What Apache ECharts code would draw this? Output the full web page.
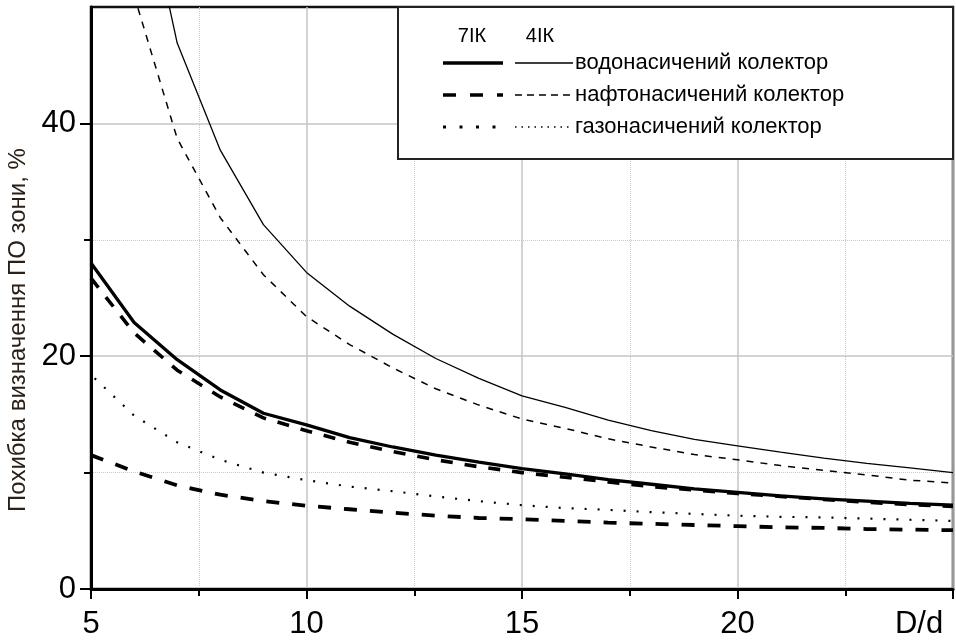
<!DOCTYPE html>
<html>
<head>
<meta charset="utf-8">
<script src="https://cdn.jsdelivr.net/npm/echarts@6/dist/echarts.min.js"></script>
<style>
    html, body { margin: 0; padding: 0; background: #fff; }
    #container { width: 956px; height: 644px; }
</style>
</head>
<body>
<div id="container"></div>
<script>
    // D/d values (x axis)
    var ratios = [5, 6, 7, 8, 9, 10, 11, 12, 13, 14, 15, 16, 17, 18, 19, 20, 21, 22, 23, 24, 25];
    // errors, %
    var water7 = [28.0, 22.9, 19.7, 17.1, 15.1, 14.1, 13.0, 12.2, 11.5, 10.9, 10.35, 9.9, 9.4, 9.0, 8.6, 8.3, 8.0, 7.75, 7.55, 7.35, 7.2];
    var water4 = [90, 64, 46.9, 37.7, 31.3, 27.2, 24.3, 21.9, 19.8, 18.1, 16.6, 15.6, 14.5, 13.6, 12.85, 12.3, 11.75, 11.25, 10.8, 10.4, 10.0];
    var oil7 = [26.7, 22.0, 18.8, 16.5, 14.7, 13.6, 12.6, 11.8, 11.1, 10.5, 10.0, 9.6, 9.2, 8.8, 8.5, 8.2, 7.95, 7.7, 7.45, 7.25, 7.1];
    var oil4 = [65, 51, 38.7, 31.9, 27.0, 23.4, 21.0, 19.0, 17.2, 15.8, 14.6, 13.8, 12.9, 12.2, 11.55, 11.1, 10.6, 10.2, 9.8, 9.35, 9.1];
    var gas7 = [11.5, 10.1, 8.9, 8.1, 7.55, 7.15, 6.85, 6.55, 6.3, 6.1, 6.0, 5.85, 5.7, 5.6, 5.5, 5.4, 5.3, 5.25, 5.15, 5.1, 5.05];
    var gas4 = [18.4, 14.9, 12.6, 11.1, 10.0, 9.35, 8.8, 8.4, 7.95, 7.55, 7.2, 6.95, 6.8, 6.6, 6.45, 6.3, 6.2, 6.15, 6.05, 5.95, 5.85];

    var yMajor = [0, 20, 40];
    var yMinor = [10, 30];
    var rowNames = ['водонасичений колектор', 'нафтонасичений колектор', 'газонасичений колектор'];
    var colNames = ['7ІК', '4ІК'];

    var font = '"Liberation Sans", Arial, sans-serif';

    function pairs(vals) {
        return ratios.map(function (x, i) { return [x, vals[i]]; });
    }

    function curve(name, vals, width, type, offset) {
        return {
            name: name,
            type: 'line',
            data: pairs(vals),
            symbol: 'none',
            smooth: false,
            clip: true,
            lineStyle: { color: '#000', width: width, type: type, dashOffset: offset || 0 },
            z: 3
        };
    }

    // legend box (drawn by hand, two sample columns)
    var legendItems = [
        { type: 'rect', shape: { x: 398, y: 7, width: 555, height: 152 },
          style: { fill: '#fff', stroke: '#222', lineWidth: 2 } },
        { type: 'text', x: 472, y: 36, style: { text: colNames[0], font: '20px ' + font, fill: '#000', align: 'center', verticalAlign: 'middle' } },
        { type: 'text', x: 540, y: 36, style: { text: colNames[1], font: '20px ' + font, fill: '#000', align: 'center', verticalAlign: 'middle' } }
    ];
    var rowY = [63, 95, 127];
    var thickStyles = [
        { lineWidth: 3.5 },
        { lineWidth: 3.5, lineDash: [13, 14] },
        { lineWidth: 3, lineDash: [3, 13.5] }
    ];
    var thinStyles = [
        { lineWidth: 1.3 },
        { lineWidth: 1.3, lineDash: [7, 5] },
        { lineWidth: 1.3, lineDash: [1.5, 5] }
    ];
    rowY.forEach(function (y, i) {
        legendItems.push({ type: 'line', shape: { x1: 443, y1: y, x2: 503, y2: y },
            style: Object.assign({ stroke: '#000' }, thickStyles[i]) });
        legendItems.push({ type: 'line', shape: { x1: 515, y1: y, x2: 573, y2: y },
            style: Object.assign({ stroke: '#000' }, thinStyles[i]) });
        legendItems.push({ type: 'text', x: 575, y: y,
            style: { text: rowNames[i], font: '22px ' + font, fill: '#000', align: 'left', verticalAlign: 'middle' } });
    });

    var myChart = echarts.init(document.getElementById('container'), null, { renderer: 'canvas' });
    var option = {
        animation: false,
        backgroundColor: '#fff',
        grid: {
            left: 91, right: 3, top: 7, bottom: 55,
            containLabel: false,
            outerBoundsMode: 'none',
            show: true, borderColor: '#111', borderWidth: 2.5, backgroundColor: 'transparent'
        },
        xAxis: {
            type: 'value',
            min: 5, max: 25, interval: 5,
            axisLine: { show: true, onZero: false, lineStyle: { color: '#000', width: 3 } },
            axisTick: { show: true, length: 10, lineStyle: { color: '#000', width: 2 } },
            minorTick: { show: true, splitNumber: 2, length: 7, lineStyle: { color: '#000', width: 2 } },
            axisLabel: {
                fontSize: 31, color: '#000', fontFamily: font, margin: 20,
                formatter: function (v) { return v === 25 ? '{dd|D/d}' : String(v); },
                rich: { dd: { fontSize: 31, color: '#000', fontFamily: font, padding: [0, 68, 0, 0] } }
            },
            splitLine: { show: true, lineStyle: { color: '#c4c4c4', width: 1.5 } },
            minorSplitLine: { show: true, lineStyle: { color: '#c8c8c8', width: 1, type: 'dotted' } }
        },
        yAxis: [{
            type: 'value',
            position: 'left',
            min: 0, max: 50,
            axisLine: { show: true, onZero: false, lineStyle: { color: '#000', width: 3 } },
            axisTick: { show: true, length: 11, customValues: yMajor, lineStyle: { color: '#000', width: 2 } },
            axisLabel: { customValues: yMajor, fontSize: 31, color: '#000', fontFamily: font, margin: 15 },
            splitLine: { show: true, lineStyle: { color: '#c4c4c4', width: 1.5 } },
            name: 'Похибка визначення ПО зони, %',
            nameLocation: 'middle',
            nameRotate: 90,
            nameGap: 57,
            nameTextStyle: { fontSize: 24, color: '#2a2018', fontFamily: font, padding: [0, 64, 0, 0] }
        }, {
            type: 'value',
            position: 'left',
            min: 0, max: 50,
            axisLine: { show: false },
            axisTick: { show: true, length: 7, customValues: yMinor, lineStyle: { color: '#000', width: 2 } },
            axisLabel: { show: false },
            splitLine: { show: true, lineStyle: { color: '#c8c8c8', width: 1, type: 'dotted' } }
        }],
        series: [
            curve('7ІК водонасичений', water7, 3.3, 'solid'),
            curve('4ІК водонасичений', water4, 1.3, 'solid'),
            curve('7ІК нафтонасичений', oil7, 3.6, [12, 12]),
            curve('4ІК нафтонасичений', oil4, 1.5, [7, 7]),
            curve('7ІК газонасичений', gas7, 3.8, [13, 13]),
            curve('4ІК газонасичений', gas4, 2.2, [2, 11], 8)
        ],
        graphic: { elements: legendItems.map(function (el) { el.z = 100; return el; }) }
    };
    myChart.setOption(option);
</script>
</body>
</html>
